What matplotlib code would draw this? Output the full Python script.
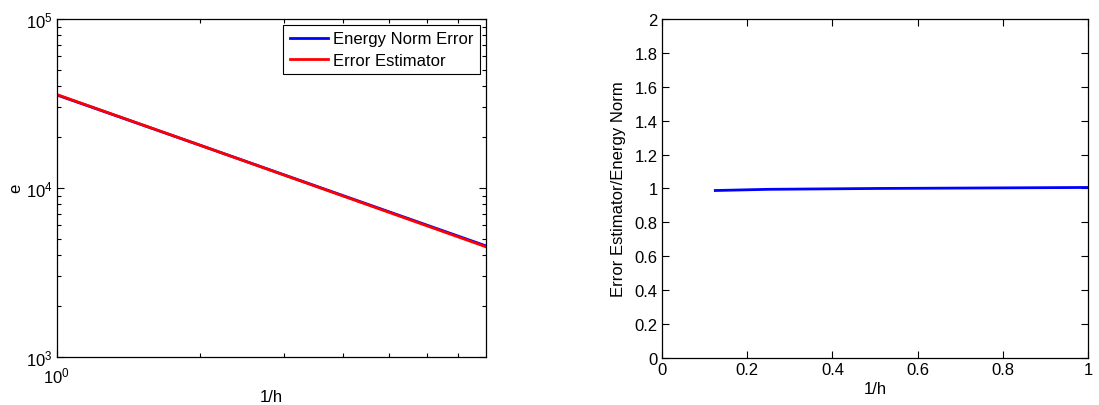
import math
import matplotlib
matplotlib.use("Agg")
import matplotlib.pyplot as plt
from matplotlib.ticker import FixedLocator, NullFormatter, FuncFormatter, LogLocator

plt.rcParams['font.family'] = ['Liberation Sans', 'DejaVu Sans']
plt.rcParams['mathtext.fontset'] = 'custom'
plt.rcParams['mathtext.rm'] = 'Liberation Sans'
plt.rcParams['mathtext.it'] = 'Liberation Sans'
plt.rcParams['mathtext.default'] = 'regular'
plt.rcParams['font.size'] = 12

# Data
inv_h = [1, 2, 4, 8]
h = [1.0, 0.5, 0.25, 0.125]
energy_norm_error = [35500, 17900, 9000, 4530]
error_estimator = [35700, 17900, 8950, 4475]
ratio = [1.006, 1.000, 0.995, 0.988]

fig = plt.figure(figsize=(10.99, 4.06), dpi=100)

ax1 = fig.add_axes([0.0516, 0.119, 0.3906, 0.8318])
ax1.loglog(inv_h, energy_norm_error, color='#0000ff', lw=2, label='Energy Norm Error')
ax1.loglog(inv_h, error_estimator, color='#ff0000', lw=2, label='Error Estimator')
ax1.set_xlim(1, 8)
ax1.set_ylim(1e3, 1e5)
ax1.xaxis.set_major_locator(FixedLocator([1]))
ax1.xaxis.set_minor_locator(FixedLocator([2, 3, 4, 5, 6, 7]))
ax1.yaxis.set_major_locator(FixedLocator([1e3, 1e4, 1e5]))
ax1.yaxis.set_minor_locator(LogLocator(base=10, subs=range(2, 10)))
fmt_log = FuncFormatter(lambda v, p: r'$10^{%d}$' % round(math.log10(v)))
ax1.xaxis.set_major_formatter(fmt_log)
ax1.yaxis.set_major_formatter(fmt_log)
ax1.xaxis.set_minor_formatter(NullFormatter())
ax1.yaxis.set_minor_formatter(NullFormatter())
ax1.set_xlabel('1/h', labelpad=3)
ax1.set_ylabel('e', labelpad=2)
leg = ax1.legend(loc='upper right', fancybox=False, edgecolor='black', framealpha=1,
                 handlelength=2.3, handletextpad=0.3, borderaxespad=0.35,
                 borderpad=0.4, labelspacing=0.37)
leg.get_frame().set_linewidth(0.8)

ax2 = fig.add_axes([0.6024, 0.1158, 0.3876, 0.835])
ax2.plot(h, ratio, color='#0000ff', lw=2)
ax2.set_xlim(0, 1)
ax2.set_ylim(0, 2)
ax2.set_xticks([0, 0.2, 0.4, 0.6, 0.8, 1])
ax2.set_yticks([0, 0.2, 0.4, 0.6, 0.8, 1, 1.2, 1.4, 1.6, 1.8, 2])
fmt_g = FuncFormatter(lambda v, p: '%g' % v)
ax2.xaxis.set_major_formatter(fmt_g)
ax2.yaxis.set_major_formatter(fmt_g)
ax2.set_xlabel('1/h', labelpad=3)
ax2.set_ylabel('Error Estimator/Energy Norm', labelpad=6)

for ax in (ax1, ax2):
    ax.tick_params(which='both', direction='in', top=True, right=True, colors='black')
    ax.tick_params(which='major', length=5, width=0.8, pad=3)
    ax.tick_params(which='minor', length=3, width=0.8)
    for s in ax.spines.values():
        s.set_linewidth(0.9)
ax1.tick_params(axis='x', which='major', pad=6)

fig.savefig('out.png', dpi=100)
